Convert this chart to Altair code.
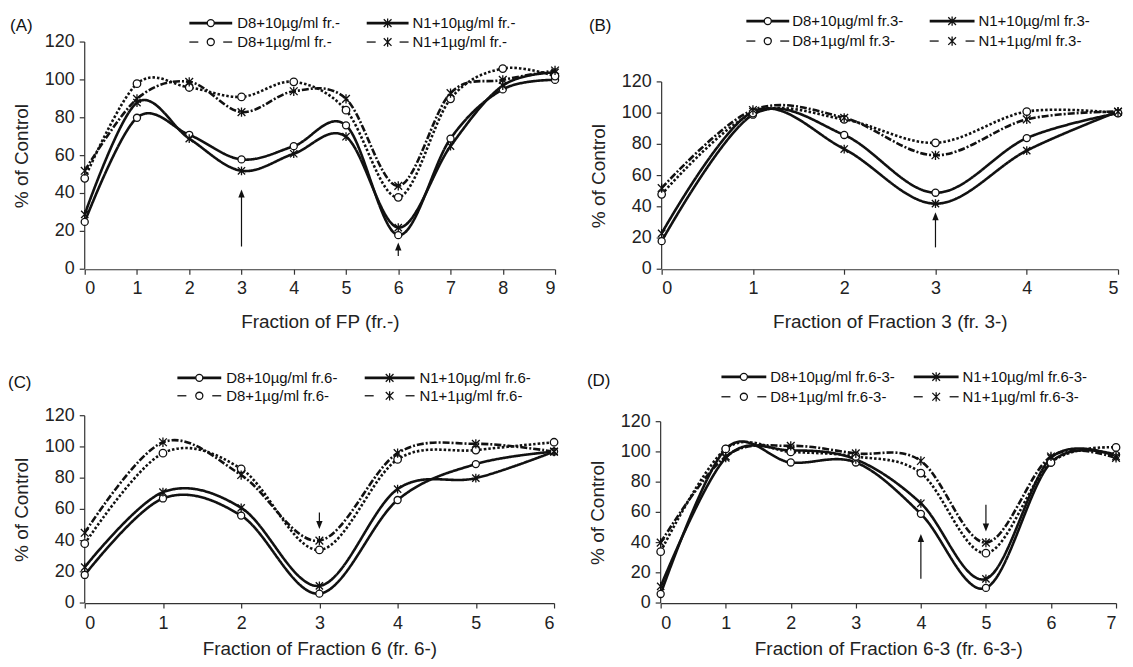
import altair as alt
import pandas as pd

FONT = "Liberation Sans"
SERIES = ["D8+10", "N1+10", "D8+1", "N1+1"]

# ---------------- data ----------------
A_x = [0, 1, 2, 3, 4, 5, 6, 7, 8, 9]
A_D8_10 = [25, 80, 71, 58, 65, 76, 18, 69, 95, 100]
A_N1_10 = [29, 88, 69, 52, 61, 70, 22, 65, 97, 104]
A_D8_1 = [48, 98, 96, 91, 99, 84, 38, 90, 106, 102]
A_N1_1 = [52, 90, 99, 83, 94, 90, 44, 93, 100, 105]

B_x = [0, 1, 2, 3, 4, 5]
B_D8_10 = [18, 99, 86, 49, 84, 100]
B_N1_10 = [23, 101, 77, 42, 76, 101]
B_D8_1 = [48, 100, 96, 81, 101, 100]
B_N1_1 = [52, 102, 97, 73, 96, 101]

C_x = [0, 1, 2, 3, 4, 5, 6]
C_D8_10 = [18, 67, 56, 6, 66, 89, 97]
C_N1_10 = [23, 71, 61, 11, 73, 80, 97]
C_D8_1 = [38, 96, 86, 34, 92, 98, 103]
C_N1_1 = [45, 103, 82, 40, 96, 102, 97]

D_x = [0, 1, 2, 3, 4, 5, 6, 7]
D_D8_10 = [6, 102, 93, 93, 59, 10, 93, 98]
D_N1_10 = [11, 96, 101, 95, 66, 16, 96, 97]
D_D8_1 = [34, 102, 100, 97, 86, 33, 93, 103]
D_N1_1 = [40, 97, 104, 99, 94, 40, 97, 96]

# arrows: (x, y_start, y_head_center)
A_arrows = [(3, 12, 40), (6, 7, 12)]
B_arrows = [(3, 14, 34)]
C_arrows = [(3, 58, 50)]
D_arrows = [(4, 16, 43), (5, 65, 50)]

A_suffix, B_suffix, C_suffix, D_suffix = "fr.-", "fr.3-", "fr.6-", "fr.6-3-"
A_xtitle = "Fraction of FP (fr.-)"
B_xtitle = "Fraction of Fraction 3 (fr. 3-)"
C_xtitle = "Fraction of Fraction 6 (fr. 6-)"
D_xtitle = "Fraction of Fraction 6-3 (fr. 6-3-)"
Y_TITLE = "% of Control"
Y_TICKS = [0, 20, 40, 60, 80, 100, 120]

# ---------------- styling ----------------
ASTER = "M-1,-1L1,1M-1,1L1,-1M0,-1.2L0,1.2"
ARROW_UP = "M0,-1L0.8,1L-0.8,1Z"
ARROW_DOWN = "M0,1L0.8,-1L-0.8,-1Z"
DASH = {"D8+10": [1, 0], "N1+10": [1, 0], "D8+1": [2.5, 2], "N1+1": [7, 2, 2, 2]}
WIDTH = {"D8+10": 2.6, "N1+10": 2.6, "D8+1": 1.3, "N1+1": 1.3}
SHAPE = {"D8+10": "circle", "N1+10": ASTER, "D8+1": "circle", "N1+1": ASTER}
SIZE = {"D8+10": 50, "N1+10": 60, "D8+1": 50, "N1+1": 60}
LABEL = {"D8+10": "D8+10µg/ml ", "N1+10": "N1+10µg/ml ", "D8+1": "D8+1µg/ml ", "N1+1": "N1+1µg/ml "}
INK = "#111111"
AXC = "#333333"
TXT = "#222222"


def legend_layers(suffix, lay):
    one = pd.DataFrame({"k": [0]})
    layers = []
    r1, r2 = lay["rows"]
    (c1a, c1b, c1t), (c2a, c2b, c2t) = lay["cols"]
    items = [("D8+10", c1a, c1b, c1t, r1), ("N1+10", c2a, c2b, c2t, r1),
             ("D8+1", c1a, c1b, c1t, r2), ("N1+1", c2a, c2b, c2t, r2)]
    for s, xa, xb, xt, yy in items:
        mid = (xa + xb) / 2
        if WIDTH[s] > 2:
            layers.append(alt.Chart(one).mark_rule(color=INK, strokeWidth=WIDTH[s]).encode(
                x=alt.value(xa), x2=alt.value(xb), y=alt.value(yy)))
        else:
            layers.append(alt.Chart(one).mark_rule(color=INK, strokeWidth=1.3).encode(
                x=alt.value(xa), x2=alt.value(xa + 9), y=alt.value(yy)))
            layers.append(alt.Chart(one).mark_rule(color=INK, strokeWidth=1.3).encode(
                x=alt.value(xb - 9), x2=alt.value(xb), y=alt.value(yy)))
        layers.append(alt.Chart(one).mark_point(
            shape=SHAPE[s], size=SIZE[s], filled=False, fill="white", fillOpacity=1,
            stroke=INK, strokeWidth=1.3, opacity=1).encode(
            x=alt.value(mid), y=alt.value(yy)))
        layers.append(alt.Chart(one).mark_text(
            align="left", baseline="middle", font=FONT, fontSize=15, color=INK).encode(
            x=alt.value(xt), y=alt.value(yy), text=alt.value(LABEL[s] + suffix)))
    lx, ly = lay["label"]
    layers.append(alt.Chart(one).mark_text(
        align="left", baseline="middle", font=FONT, fontSize=17, color=INK).encode(
        x=alt.value(lx), y=alt.value(ly), text=alt.value("(" + lay["name"] + ")")))
    return layers


def panel(xs, d8_10, n1_10, d8_1, n1_1, arrows, suffix, xtitle, W, H, span, lay, lpad, tpad):
    rows = []
    for s, vals in zip(SERIES, [d8_10, n1_10, d8_1, n1_1]):
        for x, v in zip(xs, vals):
            rows.append({"x": x, "y": v, "series": s})
    df = pd.DataFrame(rows)
    xmax = max(xs)
    ymax = Y_TICKS[-1] * H / span
    xsc = alt.Scale(domain=[0, xmax], nice=False, zero=False)
    ysc = alt.Scale(domain=[0, ymax], nice=False)
    xax = alt.Axis(values=xs, format="d", title=xtitle, grid=False, tickSize=5,
                   labelPadding=lpad, titlePadding=tpad, labelOverlap=False)
    yax = alt.Axis(title=Y_TITLE, grid=False, domain=False, labels=False, ticks=False,
                   titlePadding=53, titleY=H - span / 2)
    base = alt.Chart(df)
    lines = base.mark_line(interpolate="cardinal", color=INK).encode(
        x=alt.X("x:Q", scale=xsc, axis=xax),
        y=alt.Y("y:Q", scale=ysc, axis=yax),
        detail="series:N",
        strokeDash=alt.StrokeDash("series:N", scale=alt.Scale(domain=SERIES, range=[DASH[s] for s in SERIES]), legend=None),
        strokeWidth=alt.StrokeWidth("series:N", scale=alt.Scale(domain=SERIES, range=[WIDTH[s] for s in SERIES]), legend=None),
    )
    pts = base.mark_point(filled=False, fill="white", fillOpacity=1, stroke=INK,
                          strokeWidth=1.3, opacity=1).encode(
        x=alt.X("x:Q", scale=xsc),
        y=alt.Y("y:Q", scale=ysc),
        shape=alt.Shape("series:N", scale=alt.Scale(domain=SERIES, range=[SHAPE[s] for s in SERIES]), legend=None),
        size=alt.Size("series:N", scale=alt.Scale(domain=SERIES, range=[SIZE[s] for s in SERIES]), legend=None),
    )
    # y axis line, ticks and labels (0..120 only)
    axdf = pd.DataFrame({"x": [0], "y0": [Y_TICKS[0]], "y1": [Y_TICKS[-1]]})
    yline = alt.Chart(axdf).mark_rule(color=AXC, strokeWidth=1.2).encode(
        x=alt.X("x:Q", scale=xsc), y=alt.Y("y0:Q", scale=ysc), y2="y1:Q")
    tdf = pd.DataFrame({"v": Y_TICKS})
    yticks = alt.Chart(tdf).mark_rule(color=AXC, strokeWidth=1.2).encode(
        x=alt.value(-5), x2=alt.value(0), y=alt.Y("v:Q", scale=ysc))
    ylabels = alt.Chart(tdf).mark_text(align="right", baseline="middle", font=FONT,
                                       fontSize=18, color=TXT).encode(
        x=alt.value(-10), y=alt.Y("v:Q", scale=ysc), text=alt.Text("v:Q", format="d"))
    adf = pd.DataFrame([{"x": a[0], "y0": a[1], "y1": a[2], "dir": "up" if a[2] > a[1] else "down"} for a in arrows])
    arule = alt.Chart(adf).mark_rule(color=INK, strokeWidth=1.2).encode(
        x=alt.X("x:Q", scale=xsc), y=alt.Y("y0:Q", scale=ysc), y2="y1:Q")
    ahead = alt.Chart(adf).mark_point(filled=True, color=INK, opacity=1, size=64).encode(
        x=alt.X("x:Q", scale=xsc), y=alt.Y("y1:Q", scale=ysc),
        shape=alt.Shape("dir:N", scale=alt.Scale(domain=["up", "down"], range=[ARROW_UP, ARROW_DOWN]), legend=None))
    layers = [lines, yline, yticks, ylabels, pts, arule, ahead] + legend_layers(suffix, lay)
    return alt.layer(*layers).resolve_scale(shape="independent").properties(width=W, height=H)


LAY_A = {"name": "A", "rows": (-19, 0), "cols": ((105, 148, 153), (283, 325, 329)), "label": (-75, -16)}
LAY_B = {"name": "B", "rows": (-21, -1), "cols": ((85, 128, 131), (269, 314, 318)), "label": (-73, -16)}
LAY_C = {"name": "C", "rows": (-38, -20), "cols": ((93, 137, 142), (281, 331, 336)), "label": (-77, -33)}
LAY_D = {"name": "D", "rows": (-39, -19), "cols": ((61, 106, 110), (254, 299, 303)), "label": (-74, -35)}

H1 = 228
H2 = 188
pA = panel(A_x, A_D8_10, A_N1_10, A_D8_1, A_N1_1, A_arrows, A_suffix, A_xtitle, 472, H1, H1, LAY_A, 5, 15)
pB = panel(B_x, B_D8_10, B_N1_10, B_D8_1, B_N1_1, B_arrows, B_suffix, B_xtitle, 458, H1, 188, LAY_B, 5, 15)
pC = panel(C_x, C_D8_10, C_N1_10, C_D8_1, C_N1_1, C_arrows, C_suffix, C_xtitle, 471, H2, H2, LAY_C, 7, 7)
pD = panel(D_x, D_D8_10, D_N1_10, D_D8_1, D_N1_1, D_arrows, D_suffix, D_xtitle, 457, H2, 182, LAY_D, 7, 7)

chart = alt.vconcat(
    alt.hconcat(pA, pB, spacing=27),
    alt.hconcat(pC, pD, spacing=26),
    spacing=38,
).properties(
    padding={"left": 0, "top": 4, "right": 0, "bottom": 0}
).configure_view(stroke=None).configure_axis(
    labelFont=FONT, titleFont=FONT, labelFontSize=18, titleFontSize=19,
    titleFontWeight="normal", labelColor=TXT, titleColor=TXT,
    domainColor=AXC, tickColor=AXC, domainWidth=1.2, tickWidth=1.2,
)

chart.save("out.html", embed_options={"renderer": "svg", "actions": False})
